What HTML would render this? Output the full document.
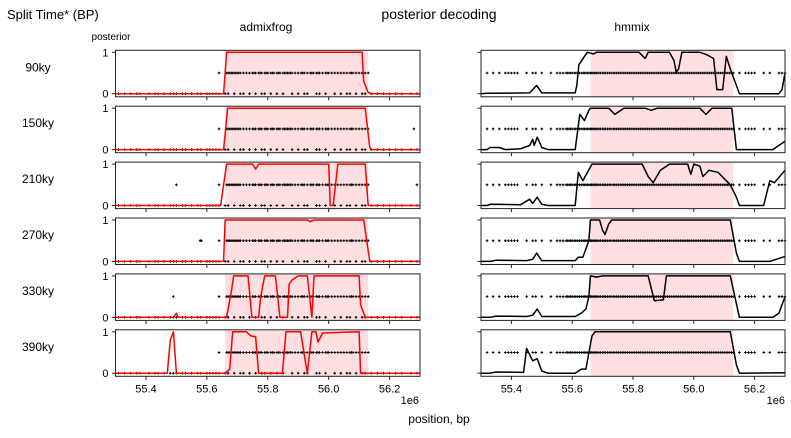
<!DOCTYPE html>
<html><head><meta charset="utf-8"><style>
body{margin:0;background:#fff;}
svg text{font-family:"Liberation Sans","DejaVu Sans",sans-serif;fill:#000;}
</style></head><body>
<svg id="chart" width="791" height="433" viewBox="0 0 791 433" xmlns="http://www.w3.org/2000/svg">
<text x="7" y="19" font-size="13">Split Time* (BP)</text>
<text x="439" y="19" font-size="14" text-anchor="middle">posterior decoding</text>
<text x="266" y="31" font-size="12" text-anchor="middle">admixfrog</text>
<text x="632" y="31" font-size="12" text-anchor="middle">hmmix</text>
<text x="111" y="40" font-size="10" text-anchor="middle">posterior</text>
<text x="439" y="423" font-size="12" text-anchor="middle">position, bp</text>
<text x="419" y="404" font-size="11" text-anchor="end">1e6</text>
<text x="785" y="404" font-size="11" text-anchor="end">1e6</text>
<g id="plots"></g>
</svg>
<script>
const rowLabels=["90ky","150ky","210ky","270ky","330ky","390ky"];
const xTicks=[55.4,55.6,55.8,56.0,56.2];
const xTickLabels=["55.4","55.6","55.8","56.0","56.2"];
const shade=[55.66,56.13];
const frogCurves=[
[[55.3,0],[55.655,0],[55.665,1],[56.11,1],[56.115,0.3],[56.13,0.03],[56.14,0],[56.3,0]],
[[55.3,0],[55.655,0],[55.668,1],[56.12,1],[56.135,0.05],[56.14,0],[56.3,0]],
[[55.3,0],[55.645,0],[55.665,1],[55.75,1],[55.76,0.88],[55.77,1],[56.0,1],[56.005,0],[56.015,0],[56.03,1],[56.12,1],[56.13,0],[56.3,0]],
[[55.3,0],[55.655,0],[55.66,1],[55.93,1],[55.94,0.96],[55.95,1],[56.115,1],[56.135,0],[56.3,0]],
[[55.3,0],[55.49,0],[55.5,0.1],[55.505,0],[55.665,0],[55.68,0.6],[55.688,1],[55.735,1],[55.748,0],[55.77,0],[55.777,0.5],[55.79,1],[55.825,1],[55.84,0],[55.865,0],[55.87,0.8],[55.88,0.9],[55.9,1],[55.93,1],[55.945,0],[55.952,1],[56.1,1],[56.105,0.3],[56.12,0],[56.3,0]],
[[55.3,0],[55.47,0],[55.48,0.8],[55.49,1],[55.5,0],[55.66,0],[55.675,0.1],[55.685,1],[55.73,1],[55.745,0.9],[55.76,0.88],[55.77,0],[55.848,0],[55.86,1],[55.908,1],[55.93,0],[55.945,1],[55.958,1],[55.965,0.75],[55.98,0.97],[56.1,1],[56.105,0],[56.3,0]]
];
const hmmCurves=[
[[55.3,0],[55.32,0.01],[55.46,0.02],[55.483,0.2],[55.5,0.02],[55.61,0.02],[55.615,0.2],[55.622,0.7],[55.64,0.9],[55.65,1],[55.67,0.96],[55.68,1],[55.82,1],[55.84,0.85],[55.85,1],[55.92,1],[55.935,0.8],[55.942,0.52],[55.95,0.6],[55.961,1],[56.02,1],[56.04,0.95],[56.065,0.85],[56.076,0.1],[56.095,0.1],[56.107,0.9],[56.12,0.6],[56.13,0.4],[56.14,0.2],[56.15,0],[56.28,0],[56.29,0.1],[56.3,0.5]],
[[55.3,0],[55.32,0],[55.33,0.05],[55.36,0.05],[55.38,0],[55.43,0.02],[55.46,0.1],[55.47,0.25],[55.475,0.1],[55.485,0.3],[55.5,0.05],[55.52,0],[55.61,0],[55.625,0.85],[55.64,0.7],[55.655,0.95],[55.66,1],[55.72,1],[55.74,0.85],[55.77,1],[55.84,1],[55.86,0.95],[55.88,1],[56.02,1],[56.04,0.85],[56.06,1],[56.125,1],[56.14,0],[56.26,0],[56.3,0.2]],
[[55.3,0],[55.32,0],[55.33,0.03],[55.43,0.02],[55.46,0.15],[55.47,0.05],[55.485,0.2],[55.5,0.03],[55.52,0],[55.61,0],[55.62,0.8],[55.635,0.6],[55.65,0.8],[55.665,1],[55.83,1],[55.85,0.7],[55.866,0.55],[55.89,0.85],[55.92,1],[55.98,1],[55.99,0.75],[56.0,1],[56.02,0.95],[56.03,0.7],[56.05,0.85],[56.08,0.8],[56.12,0.5],[56.14,0.2],[56.15,0],[56.23,0],[56.25,0.6],[56.265,0.55],[56.3,0.85]],
[[55.3,0],[55.33,0],[55.35,0.03],[55.45,0.02],[55.47,0.05],[55.483,0.2],[55.5,0.02],[55.61,0.02],[55.62,0.1],[55.635,0.1],[55.655,0.5],[55.66,1],[55.69,1],[55.7,0.75],[55.708,0.65],[55.72,0.9],[55.73,1],[56.12,1],[56.14,0.2],[56.15,0],[56.25,0],[56.3,0.12]],
[[55.3,0],[55.33,0],[55.35,0.03],[55.45,0.02],[55.47,0.05],[55.485,0.2],[55.5,0.02],[55.61,0.02],[55.63,0.1],[55.645,0.2],[55.655,0.5],[55.66,1],[55.68,0.97],[55.7,1],[55.85,1],[55.87,0.4],[55.9,0.42],[55.91,1],[56.12,1],[56.15,0],[56.26,0],[56.28,0.1],[56.3,0.5]],
[[55.3,0],[55.33,0],[55.35,0.03],[55.44,0.02],[55.45,0.6],[55.47,0.3],[55.485,0.35],[55.5,0.05],[55.52,0],[55.61,0],[55.63,0.1],[55.645,0.1],[55.655,0.5],[55.665,0.9],[55.675,1],[56.12,1],[56.14,0.2],[56.15,0],[56.3,0.01]]
];
const hmmDots=[55.32,55.34,55.36,55.38,55.39,55.4,55.41,55.42,55.45,55.47,55.48,55.5,55.53,55.55,55.56,55.57,55.58,55.585,55.59,55.595,55.6,55.607,55.612,55.618,55.624,55.63,55.636,55.64,55.645,55.65,55.655,55.66,55.664,55.668,55.673,55.678,55.682,55.688,55.693,55.7,55.705,55.71,55.716,55.722,55.728,55.735,55.74,55.746,55.752,55.758,55.764,55.77,55.776,55.782,55.788,55.794,55.8,55.806,55.812,55.818,55.824,55.83,55.836,55.842,55.848,55.854,55.86,55.866,55.872,55.878,55.884,55.89,55.896,55.902,55.908,55.914,55.92,55.926,55.932,55.938,55.944,55.95,55.956,55.962,55.968,55.974,55.98,55.986,55.992,55.998,56.004,56.01,56.016,56.022,56.028,56.034,56.04,56.046,56.052,56.058,56.064,56.07,56.076,56.082,56.088,56.094,56.1,56.106,56.112,56.118,56.124,56.13,56.15,56.17,56.18,56.19,56.2,56.23,56.25,56.28,56.29,56.3];
const frogHalfDots=[55.64,55.665,55.67,55.675,55.68,55.685,55.69,55.695,55.7,55.705,55.71,55.72,55.73,55.74,55.75,55.755,55.76,55.77,55.775,55.78,55.79,55.795,55.8,55.81,55.815,55.82,55.83,55.835,55.84,55.85,55.855,55.86,55.865,55.87,55.875,55.88,55.89,55.9,55.91,55.915,55.92,55.93,55.94,55.945,55.95,55.96,55.965,55.97,55.98,55.99,55.995,56.0,56.01,56.02,56.03,56.04,56.05,56.06,56.07,56.075,56.08,56.09,56.1,56.11,56.12,56.13];
const frogZeroDots=[55.31,55.33,55.35,55.37,55.38,55.41,55.43,55.44,55.46,55.48,55.49,55.5,55.52,55.53,55.55,55.57,55.58,55.6,55.61,55.62,55.63,55.64,55.66,55.67,55.69,55.71,55.72,55.74,55.76,55.78,55.79,55.81,55.83,55.85,55.88,55.9,55.92,55.93,55.96,55.97,55.99,56.02,56.04,56.06,56.07,56.09,56.11,56.12,56.14,56.16,56.18,56.2,56.22,56.24,56.27,56.29];
const frogExtra=[[],[56.28],[55.5,56.29],[55.578,55.582],[55.49],[]];

const NS="http://www.w3.org/2000/svg";
const g=document.getElementById('plots');
const sides=[{x0:115.5,w:304.5},{x0:481,w:304}];
function px(v,s){return sides[s].x0+(v-55.3)/1.0*sides[s].w;}
function rowTop(r){return 50.3+55.9*r;}
function py(val,r){return rowTop(r)+43.4-val*41.4;}
function mk(tag,attrs){const e=document.createElementNS(NS,tag);for(const k in attrs)e.setAttribute(k,attrs[k]);g.appendChild(e);return e;}
function dot(x,y){const e=mk('path',{d:`M${x-1.3},${y}h2.6M${x},${y-1.3}v2.6`,stroke:'#000','stroke-width':1});

}
for(let r=0;r<6;r++){
  const lab=mk('text',{x:38,y:rowTop(r)+21,'font-size':12,'text-anchor':'middle'});lab.textContent=rowLabels[r];
  
  
  for(let s=0;s<2;s++){
    const x0=sides[s].x0,w=sides[s].w,t=rowTop(r),h=46.5;
    const sh=mk('rect',{x:px(shade[0],s),y:t,width:px(shade[1],s)-px(shade[0],s),height:h,fill:'#ffdfe2'});
    
    
    if(s===0){
      frogHalfDots.concat(frogExtra[r]).forEach(v=>dot(px(v,0),py(0.5,r)));
      frogZeroDots.forEach(v=>dot(px(v,0),py(0,r)));
    } else {
      hmmDots.forEach(v=>dot(px(v,1),py(0.5,r)));
    }
    const cv=s===0?frogCurves[r]:hmmCurves[r];
    const line=mk('polyline',{points:cv.map(p=>px(p[0],s).toFixed(1)+','+py(p[1],r).toFixed(1)).join(' '),fill:'none',stroke:s===0?'#ff0000':'#000','stroke-width':1.5,'stroke-linejoin':'round'});
    
    
    const fr=mk('rect',{x:x0,y:t,width:w,height:h,fill:'none',stroke:'#222','stroke-width':1});
    
    
    xTicks.forEach((v,i)=>{
      const tk=mk('line',{x1:px(v,s),x2:px(v,s),y1:t+h,y2:t+h+3.5,stroke:'#222'});
      
      
      if(r===5){const tl=mk('text',{x:px(v,s),y:t+h+16,'font-size':11,'text-anchor':'middle'});tl.textContent=xTickLabels[i];
        
        }
    });
    [0,1].forEach(v=>{
      const tk=mk('line',{x1:x0-3.5,x2:x0,y1:py(v,r),y2:py(v,r),stroke:'#222'});
      
      
      if(s===0){const tl=mk('text',{x:x0-7,y:py(v,r)+4,'font-size':11,'text-anchor':'end'});tl.textContent=String(v);
        
        }
    });
  }
}
</script>
</body></html>
